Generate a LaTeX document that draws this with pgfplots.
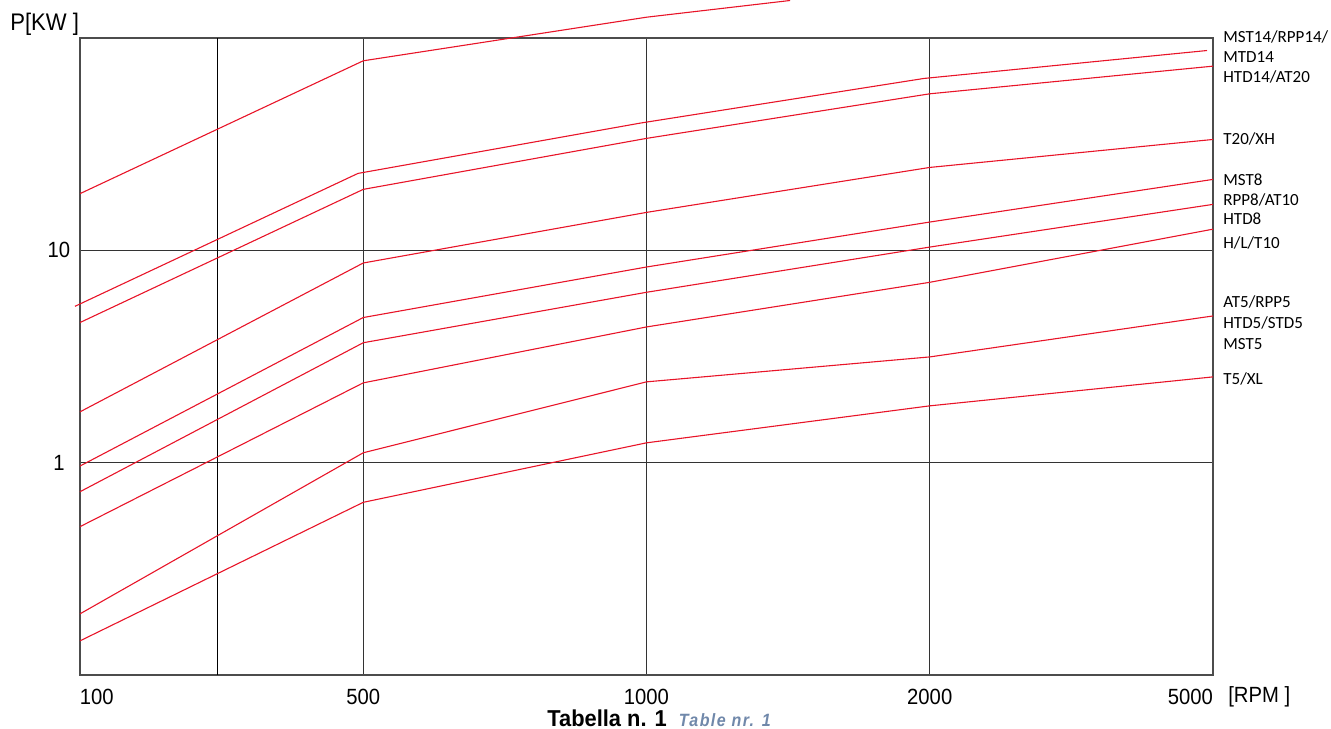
\documentclass[border=0pt]{standalone}
\usepackage{fontspec}
\setmainfont[FakeStretch=0.92]{Liberation Sans}
\newfontfamily\calibri{Carlito}
\newfontfamily\tabf[FakeStretch=0.95]{Liberation Sans}
\newfontfamily\tabsmall[FakeStretch=0.9,LetterSpace=8]{Liberation Sans}
\usepackage{pgfplots}
\pgfplotsset{compat=1.18}
\definecolor{lred}{RGB}{232,20,40}
\definecolor{capblue}{RGB}{112,136,170}
\pgfplotsset{redl/.style={lred, solid, line width=0.55pt, mark=none}}
\begin{document}
\begin{tikzpicture}
\begin{axis}[
  scale only axis, width=566.5pt, height=318.5pt,
  xmin=0, xmax=4, ymode=log, ymin=0.1, ymax=100,
  clip=false,
  xtick={0,1,2,3,4},
  xticklabels={\makebox[0pt][l]{100},500,1000,2000,\makebox[0pt][r]{5000}},
  ytick={1,10}, yticklabels={1,10},
  extra x ticks={0.4837}, extra x tick labels={},
  extra x tick style={grid=major, major grid style={black, line width=0.5pt}},
  grid=major,
  major grid style={black!80, line width=0.55pt},
  axis line style={black!70, line width=0.6pt},
  major tick length=0pt, minor tick length=0pt,
  tick label style={font=\fontsize{11}{13}\selectfont},
  xticklabel style={anchor=center, yshift=-11pt},
  yticklabel style={anchor=center, xshift=-10.5pt},
  /pgf/number format/assume math mode=true,
]
\addplot[redl] coordinates {(0,18.49)(1,78.1)(2,125.3)(2.507,150.2)};
\addplot[redl] coordinates {(-0.0177,5.45)(0.9815,23.03)(1.9806,39.8)(2.9797,64.5)(3.9788,87.3)};
\addplot[redl] coordinates {(0,4.57)(1,19.37)(2,33.67)(3,54.6)(4,73.7)};
\addplot[redl] coordinates {(0,1.735)(1,8.716)(2,15.09)(3,24.57)(4,33.28)};
\addplot[redl] coordinates {(0,0.964)(1,4.825)(2,8.347)(3,13.59)(4,21.58)};
\addplot[redl] coordinates {(0,0.7297)(1,3.672)(2,6.345)(3,10.36)(4,16.46)};
\addplot[redl] coordinates {(0,0.4995)(1,2.376)(2,4.357)(3,7.07)(4,12.58)};
\addplot[redl] coordinates {(0,0.1941)(1,1.113)(2,2.402)(3,3.148)(4,4.909)};
\addplot[redl] coordinates {(0,0.1448)(1,0.6505)(2,1.240)(3,1.852)(4,2.535)};

\begin{scope}[every node/.style={anchor=west, inner sep=0pt, font=\calibri\fontsize{8.5}{10}\selectfont}]
\node at (rel axis cs:1.0088,1.0020) {MST14/RPP14/};
\node at (rel axis cs:1.0088,0.9697) {MTD14};
\node at (rel axis cs:1.0088,0.9383) {HTD14/AT20};
\node at (rel axis cs:1.0088,0.8410) {T20/XH};
\node at (rel axis cs:1.0088,0.7782) {MST8};
\node at (rel axis cs:1.0088,0.7457) {RPP8/AT10};
\node at (rel axis cs:1.0088,0.7159) {HTD8};
\node at (rel axis cs:1.0088,0.6787) {H/L/T10};
\node at (rel axis cs:1.0088,0.5860) {AT5/RPP5};
\node at (rel axis cs:1.0088,0.5521) {HTD5/STD5};
\node at (rel axis cs:1.0088,0.5196) {MST5};
\node at (rel axis cs:1.0088,0.4642) {T5/XL};
\end{scope}
\node[anchor=west, inner sep=0pt, font=\fontsize{12}{14}\selectfont] at (rel axis cs:-0.0618,1.022) {P[KW ]};
\node[anchor=west, inner sep=0pt, font=\fontsize{11}{13}\selectfont] at (rel axis cs:1.0132,-0.0345) {[RPM ]};
\node[anchor=base west, inner sep=0pt] at (rel axis cs:0.4122,-0.0812)
  {{\tabf\bfseries\fontsize{11.5}{13}\selectfont Tabella n. 1}\hspace{6pt}{\color{capblue}\tabsmall\bfseries\itshape\fontsize{8.9}{10}\selectfont Table nr. 1}};
\coordinate (bl) at (rel axis cs:-0.07061,-0.08477);
\coordinate (tr) at (rel axis cs:1.10415,1.05965);
\end{axis}
\pgfresetboundingbox
\path[use as bounding box] (bl) rectangle (tr);
\end{tikzpicture}
\end{document}
